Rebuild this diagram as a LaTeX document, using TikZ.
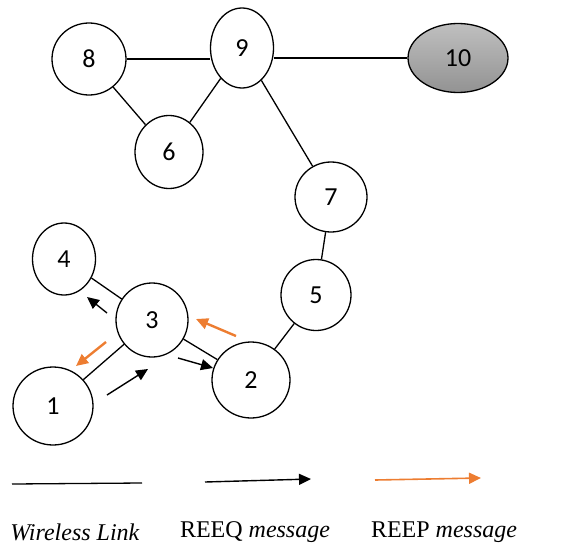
\documentclass[tikz,border=0pt]{standalone}
\usepackage{xcolor}
\usepackage{fontspec}
\setmainfont{Liberation Serif}
\newfontfamily\numfont{Carlito}
\usetikzlibrary{shapes.geometric,arrows.meta}
\definecolor{reeporange}{RGB}{237,125,49}

\begin{document}
\begin{tikzpicture}[x=1pt, y=-1pt,
        sensor/.style={ellipse, draw, line width=1.3pt, inner sep=0pt, font=\numfont\fontsize{26}{26}\selectfont},
        link/.style={line width=1.3pt},
        reeq/.style={line width=1.4pt, -{Triangle[length=12pt,width=11pt]}},
        reep/.style={reeq, draw=reeporange, fill=reeporange, line width=2.4pt},
        legend/.style={font=\fontsize{24}{26}\selectfont}]
    \useasboundingbox (0,0) rectangle (572,551);

    \node (n8) [sensor, minimum width=74pt, minimum height=72pt] at (89,59) {8};
    \node (n9) [sensor, minimum width=63pt, minimum height=80pt] at (242,48) {9};
    \node (n10) [sensor, minimum width=100pt, minimum height=69pt, top color=gray!50, bottom color=gray!85] at (458,58) {10};
    \node (n6) [sensor, minimum width=68pt, minimum height=73pt] at (169,152) {6};
    \node (n7) [sensor, minimum width=72pt, minimum height=70pt] at (331,197) {7};
    \node (n5) [sensor, minimum width=70pt, minimum height=71pt] at (316,295) {5};
    \node (n4) [sensor, minimum width=63pt, minimum height=72pt] at (64,259) {4};
    \node (n3) [sensor, minimum width=72pt, minimum height=74pt] at (152,320) {3};
    \node (n2) [sensor, minimum width=78pt, minimum height=76pt] at (251,380) {2};
    \node (n1) [sensor, minimum width=80pt, minimum height=78pt] at (53,406) {1};

    \draw [link] (n8.east) -- (n9.west |- n8.east);
    \draw [link] (n9.east |- n10.west) -- (n10.west);
    \draw [link] (n8) -- (n6);
    \draw [link] (n9) -- (n6);
    \draw [link] (n9) -- (n7);
    \draw [link] (n7) -- (n5);
    \draw [link] (n5) -- (n2);
    \draw [link] (n3) -- (n2);
    \draw [link] (n3) -- (n4);
    \draw [link] (n3) -- (n1);

    \coordinate (q34a) at (107,313);
    \coordinate (q34b) at (87,297);
    \coordinate (p31a) at (106,342);
    \coordinate (p31b) at (76,366);
    \coordinate (p23a) at (236,336);
    \coordinate (p23b) at (196,319);
    \coordinate (q32a) at (178,358);
    \coordinate (q32b) at (213,368);
    \coordinate (q13a) at (107,395);
    \coordinate (q13b) at (148,369);

    \draw [reeq] (q34a) -- (q34b);
    \draw [reeq] (q32a) -- (q32b);
    \draw [reeq] (q13a) -- (q13b);
    \draw [reep] (p31a) -- (p31b);
    \draw [reep] (p23a) -- (p23b);

    \coordinate (k1) at (12,484);
    \coordinate (k2) at (142,483);
    \coordinate (r1) at (205,482);
    \coordinate (r2) at (311,479);
    \coordinate (s1) at (375,480);
    \coordinate (s2) at (481,478);
    \draw [link] (k1) -- (k2);
    \draw [reeq] (r1) -- (r2);
    \draw [reep, line width=1.6pt] (s1) -- (s2);

    \node (lk) [legend] at (75,532) {\textit{Wireless Link}};
    \node (lq) [legend] at (255,532) {REEQ \textit{message}};
    \node (lp) [legend] at (444,532) {REEP \textit{message}};
\end{tikzpicture}
\end{document}
